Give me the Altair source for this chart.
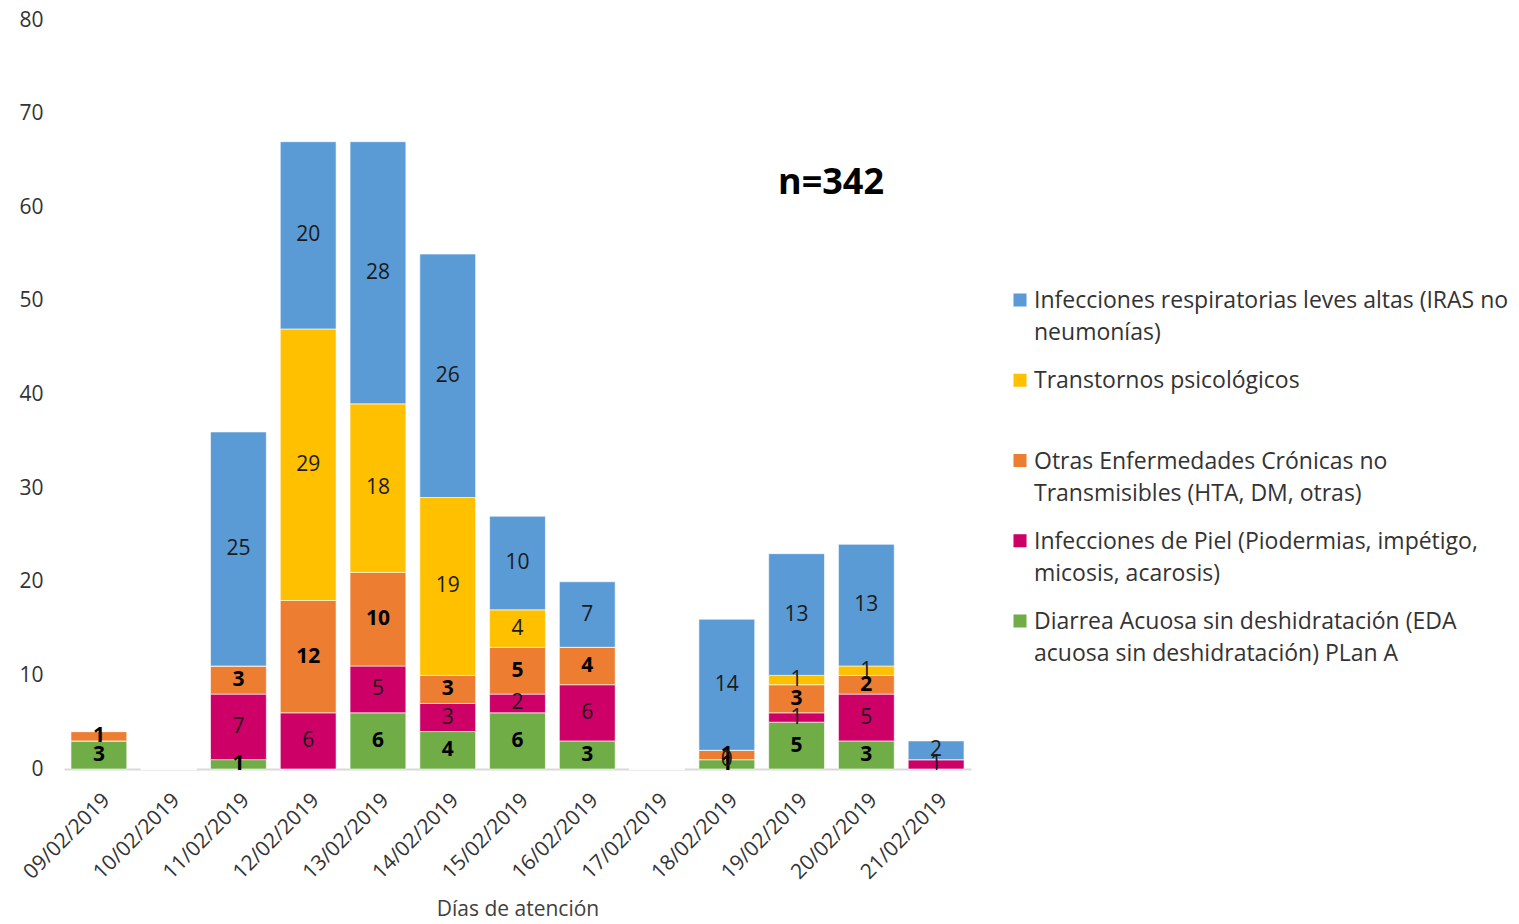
import altair as alt
import pandas as pd

dates = ["09/02/2019", "10/02/2019", "11/02/2019", "12/02/2019", "13/02/2019",
         "14/02/2019", "15/02/2019", "16/02/2019", "17/02/2019", "18/02/2019",
         "19/02/2019", "20/02/2019", "21/02/2019"]

# stacking order: bottom to top
categories = [
    "Diarrea Acuosa sin deshidratación (EDA|acuosa sin deshidratación) PLan A",
    "Infecciones de Piel (Piodermias, impétigo,|micosis, acarosis)",
    "Otras Enfermedades Crónicas no|Transmisibles (HTA, DM, otras)",
    "Transtornos psicológicos| ",
    "Infecciones respiratorias leves altas (IRAS no|neumonías)",
]
colors = ["#70AD47", "#CC0066", "#ED7D31", "#FFC000", "#5B9BD5"]
bold_labels = [True, False, True, False, False]

green = [3, 0, 1, 0, 6, 4, 6, 3, 0, 1, 5, 3, 0]
pink = [0, 0, 7, 6, 5, 3, 2, 6, 0, 0, 1, 5, 1]
orange = [1, 0, 3, 12, 10, 3, 5, 4, 0, 1, 3, 2, 0]
yellow = [0, 0, 0, 29, 18, 19, 4, 0, 0, 0, 1, 1, 0]
blue = [0, 0, 25, 20, 28, 26, 10, 7, 0, 14, 13, 13, 2]
# zero-valued segment whose label is still printed in the original
shown_zero = [("18/02/2019", 1)]

series = [green, pink, orange, yellow, blue]
rows = []
for ci, (cat, vals) in enumerate(zip(categories, series)):
    for d, v in zip(dates, vals):
        show = v > 0 or (d, ci) in shown_zero
        rows.append({"fecha": d, "cat": cat, "ord": ci, "v": v,
                     "show": show, "bold": bold_labels[ci]})
df = pd.DataFrame(rows)

legend_order = list(reversed(categories))
color_scale = alt.Scale(domain=categories, range=colors)

base = alt.Chart(df).transform_stack(
    stack="v", groupby=["fecha"], sort=[alt.SortField("ord")], as_=["y0", "y1"]
).transform_calculate(mid="(datum.y0 + datum.y1) / 2")

xenc = alt.X("fecha:N", sort=dates, scale=alt.Scale(paddingInner=0.2, paddingOuter=0.1),
             axis=alt.Axis(title="Días de atención", labelAngle=-45, labelFontSize=21,
                           labelFont="Open Sans", labelColor="#333333", ticks=False,
                           domainColor="#D9D9D9", domainWidth=2, labelPadding=20,
                           titleFont="Open Sans", titleFontSize=21, titleFontWeight="normal",
                           titleColor="#404040", titlePadding=16))
yscale = alt.Scale(domain=[0, 80])

bars = base.mark_bar(stroke="white", strokeWidth=0.6).encode(
    x=xenc,
    y=alt.Y("y0:Q", scale=yscale,
            axis=alt.Axis(title=None, values=list(range(0, 81, 10)), grid=False, domain=False,
                          ticks=False, labelFontSize=21, labelFont="Open Sans",
                          labelColor="#333333", labelPadding=21)),
    y2="y1:Q",
    color=alt.Color("cat:N", scale=color_scale, legend=None),
)

labels_bold = base.transform_filter("datum.show && datum.bold").mark_text(
    font="Open Sans", fontSize=21, fontWeight="bold", color="black", baseline="middle"
).encode(x=alt.X("fecha:N", sort=dates), y=alt.Y("mid:Q", scale=yscale), text="v:Q")

labels_norm = base.transform_filter("datum.show && !datum.bold").mark_text(
    font="Open Sans", fontSize=21, color="#1a1a1a", baseline="middle"
).encode(x=alt.X("fecha:N", sort=dates), y=alt.Y("mid:Q", scale=yscale), text="v:Q")

main = alt.layer(bars, labels_bold, labels_norm)

note = alt.Chart(pd.DataFrame({"t": ["n=342"]})).mark_text(
    font="Open Sans", fontSize=36, fontWeight="bold", color="black"
).encode(x=alt.value(767), y=alt.value(163), text="t:N")

# legend drawn as marks
leg_df = pd.DataFrame({"cat": legend_order})
leg_y = alt.Y("cat:N", sort=legend_order, axis=None,
              scale=alt.Scale(type="point", padding=0, range=[280, 601]))
leg_sym = alt.Chart(leg_df).mark_square(size=170, opacity=1).encode(
    x=alt.value(956), y=leg_y,
    color=alt.Color("cat:N", scale=color_scale, legend=None),
)
leg_txt = alt.Chart(leg_df).transform_calculate(
    lines="split(datum.cat, '|')"
).mark_text(font="Open Sans", fontSize=23, color="#333333", align="left",
            baseline="alphabetic", dy=8, lineHeight=32).encode(
    x=alt.value(970), y=leg_y, text="lines:N",
)
legend = alt.layer(leg_sym, leg_txt)

chart = alt.layer(main, note, legend).resolve_scale(y="independent").properties(
    width=907, height=749,
    autosize=alt.AutoSizeParams(type="none"),
    padding={"left": 56, "top": 12, "right": 540, "bottom": 154},
).configure_view(stroke=None)

chart.save("out.html", embed_options={"renderer": "svg", "actions": False})
